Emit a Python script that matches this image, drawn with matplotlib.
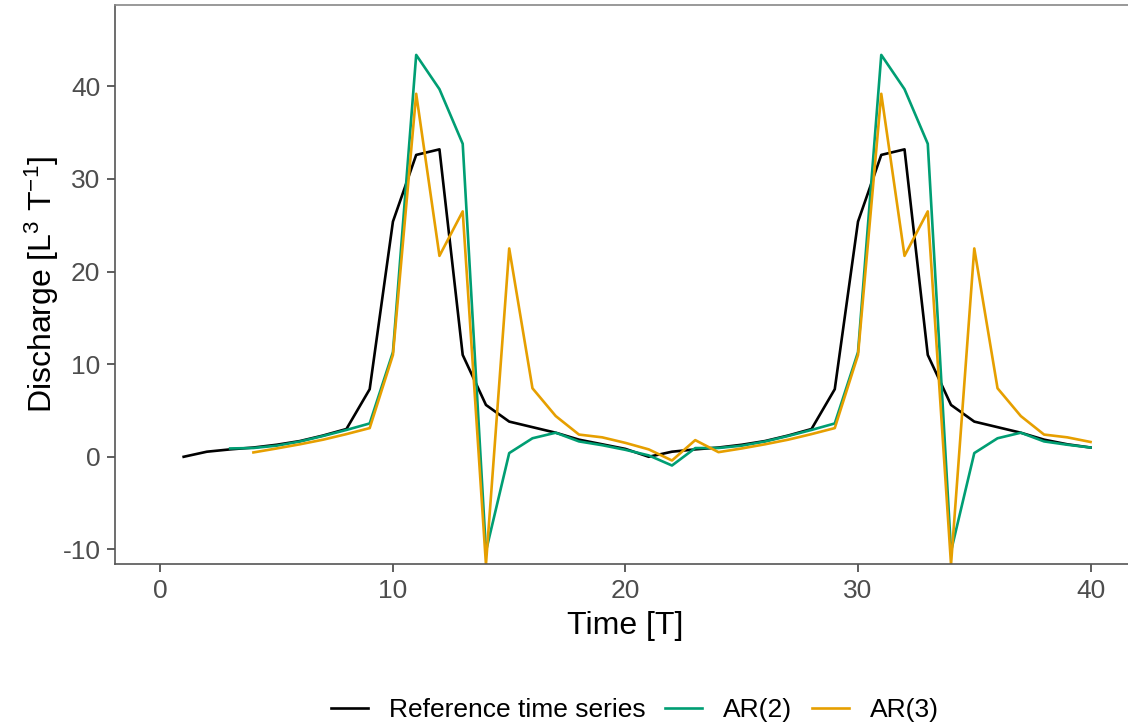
import matplotlib
matplotlib.use('Agg')
import matplotlib.pyplot as plt

plt.rcParams['font.family'] = ['Liberation Sans', 'DejaVu Sans']
plt.rcParams['mathtext.fontset'] = 'custom'
plt.rcParams['mathtext.rm'] = 'Liberation Sans'
plt.rcParams['mathtext.it'] = 'Liberation Sans'
plt.rcParams['axes.unicode_minus'] = False

# time steps
time = list(range(1, 41))

# reference time series (x = 1..40)
reference = [0.0, 0.55, 0.8, 1.0, 1.3, 1.7, 2.3, 3.0, 7.3, 25.4,
             32.6, 33.2, 11.0, 5.6, 3.8, 3.2, 2.6, 1.85, 1.35, 0.85,
             0.0, 0.55, 0.8, 1.0, 1.3, 1.7, 2.3, 3.0, 7.3, 25.4,
             32.6, 33.2, 11.0, 5.6, 3.8, 3.2, 2.6, 1.85, 1.35, 1.0]

# AR(2) fit, starts at x = 3
ar2_time = list(range(3, 41))
ar2 = [0.9, 0.95, 1.2, 1.65, 2.25, 2.9, 3.6, 11.3,
       43.4, 39.7, 33.8, -10.2, 0.4, 2.0, 2.6, 1.66, 1.25, 0.75,
       0.15, -0.94, 0.94, 0.95, 1.2, 1.65, 2.25, 2.9, 3.6, 11.3,
       43.4, 39.7, 33.8, -10.2, 0.4, 2.0, 2.6, 1.66, 1.3, 1.0]

# AR(3) fit, starts at x = 4
ar3_time = list(range(4, 41))
ar3 = [0.47, 0.9, 1.35, 1.85, 2.45, 3.1, 11.0,
       39.2, 21.7, 26.5, -11.62, 22.5, 7.4, 4.4, 2.4, 2.1, 1.5,
       0.8, -0.4, 1.8, 0.5, 0.9, 1.35, 1.85, 2.45, 3.1, 11.0,
       39.2, 21.7, 26.5, -11.62, 22.5, 7.4, 4.4, 2.4, 2.1, 1.6]

x_ticks = [0, 10, 20, 30, 40]
y_ticks = [-10, 0, 10, 20, 30, 40]

fig = plt.figure(figsize=(11.28, 7.26), dpi=100)
# panel runs slightly past the right edge, as in the reference
ax = fig.add_axes([0.102, 0.2226, 0.905, 0.7704])

ax.plot(time, reference, color='black', linewidth=1.9, label='Reference time series')
ax.plot(ar2_time, ar2, color='#009E73', linewidth=1.9, label='AR(2)')
ax.plot(ar3_time, ar3, color='#E69F00', linewidth=1.9, label='AR(3)')

ax.set_xlim(-1.95, 41.95)
ax.set_ylim(-11.62, 48.78)
ax.set_xticks(x_ticks)
ax.set_yticks(y_ticks)
ax.tick_params(axis='both', direction='out', length=5.5, width=1.1,
               color='#333333', labelsize=19, labelcolor='#4D4D4D', pad=5)

for side in ['left', 'bottom']:
    ax.spines[side].set_color('#555555')
    ax.spines[side].set_linewidth(1.2)
ax.spines['top'].set_color('#888888')
ax.spines['top'].set_linewidth(1.2)
ax.spines['right'].set_visible(False)

ax.set_xlabel('Time [T]', fontsize=23, labelpad=6)
ax.set_ylabel('Discharge [L$^{3}$ T$^{-1}$]', fontsize=23, labelpad=1)

fig.legend(loc='center', bbox_to_anchor=(635 / 1128, 1 - 710 / 726), ncol=3,
           frameon=False, fontsize=19, handlelength=1.4, handletextpad=0.8,
           columnspacing=0.75)

fig.savefig('out.png', dpi=100)
